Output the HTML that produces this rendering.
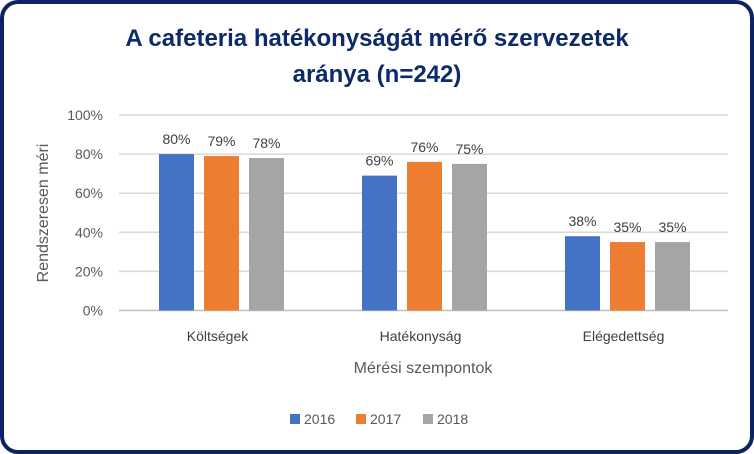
<!DOCTYPE html>
<html><head><meta charset="utf-8"><style>
body{margin:0;background:#fff;}
#c{position:absolute;left:0;top:0;width:754px;height:454px;}
text{font-family:"Liberation Sans",sans-serif;}
</style></head><body>
<svg id="c" width="754" height="454">
<rect x="2" y="2" width="750" height="450" rx="16" fill="#fff" stroke="#0d2260" stroke-width="4"/>
<text x="377" y="46" text-anchor="middle" font-size="24" font-weight="bold" fill="#0d2a6b">A cafeteria hatékonyságát mérő szervezetek</text>
<text x="377" y="82" text-anchor="middle" font-size="24" font-weight="bold" fill="#0d2a6b">aránya (n=242)</text>
<g id="grid"></g>
<g id="bars"></g>
<text transform="translate(48,213) rotate(-90)" text-anchor="middle" font-size="16" fill="#595959">Rendszeresen méri</text>
<text x="423" y="373" text-anchor="middle" font-size="16" fill="#595959">Mérési szempontok</text>
<g id="legend"></g>
</svg>
<script>
const categories=["Költségek","Hatékonyság","Elégedettség"];
const series=["2016","2017","2018"];
const v2016=[80,69,38];
const v2017=[79,76,35];
const v2018=[78,75,35];
const yTicks=[0,20,40,60,80,100];
const colors=["#4472c4","#ed7d31","#a5a5a5"];
const NS="http://www.w3.org/2000/svg";
const x0=119,x1=728,yBase=310.5,yTop=115;
const y=v=>yBase-(yBase-yTop)*v/100;
const gw=(x1-x0)/categories.length;
function mk(t,a,p,txt){const e=document.createElementNS(NS,t);for(const k in a)e.setAttribute(k,a[k]);if(txt!==undefined)e.textContent=txt;p.appendChild(e);return e;}
const grid=document.getElementById('grid');
yTicks.forEach(t=>{
 const l=mk('line',{x1:x0,x2:x1,y1:y(t),y2:y(t),stroke:t===0?'#bfbfbf':'#d9d9d9','stroke-width':1.5},grid);
 
 
 const tx=mk('text',{x:103,y:y(t)+5,'text-anchor':'end','font-size':14,fill:'#595959'},grid,t+'%');
 
 
});
const bars=document.getElementById('bars');
const vals=[v2016,v2017,v2018];
const bw=35,step=45;
categories.forEach((c,i)=>{
 const cx=x0+gw*(i+0.5)+1;
 vals.forEach((arr,s)=>{
  const bx=cx-bw/2+(s-1)*step;
  const r=mk('rect',{x:bx,y:y(arr[i]),width:bw,height:yBase-y(arr[i]),fill:colors[s]},bars);
  
  
  const t=mk('text',{x:bx+bw/2,y:y(arr[i])-10,'text-anchor':'middle','font-size':14,fill:'#404040'},bars,arr[i]+'%');
  
  
 });
 const lt=mk('text',{x:cx-4,y:341,'text-anchor':'middle','font-size':14,fill:'#404040'},bars,c);
 
 
});
const lg=document.getElementById('legend');
const lx=[290,356,423];
series.forEach((s,k)=>{
 const r=mk('rect',{x:lx[k],y:414,width:10,height:10,fill:colors[k]},lg);
 
 
 const t=mk('text',{x:lx[k]+14,y:424,'font-size':14,fill:'#595959'},lg,s);
 
 
});
</script>
</body></html>
